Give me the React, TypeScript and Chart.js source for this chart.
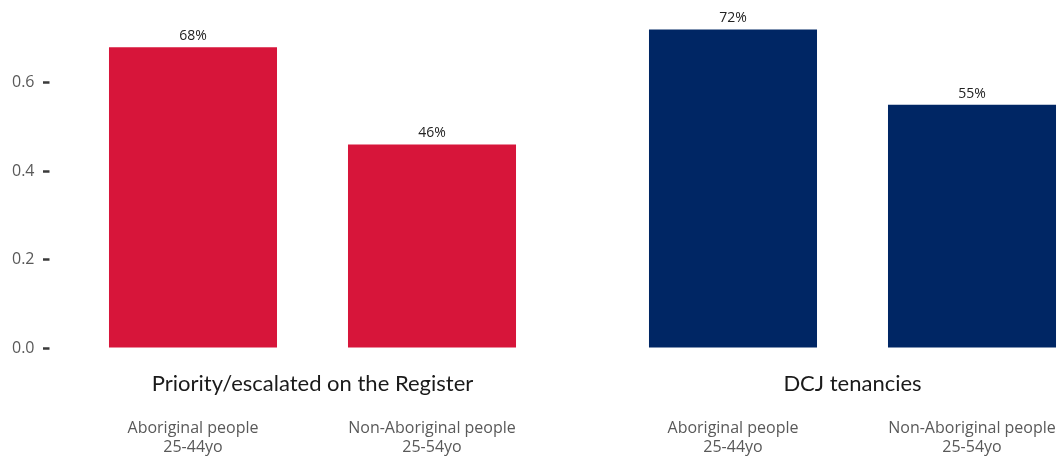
import React, { useEffect, useRef } from "react";
import { Chart, registerables } from "chart.js";

Chart.register(...registerables);

const groups = ["Priority/escalated on the Register", "DCJ tenancies"];
const seriesNames = [
  ["Aboriginal people", "25-44yo"],
  ["Non-Aboriginal people", "25-54yo"],
];
const aboriginalValues = [0.68, 0.72];
const nonAboriginalValues = [0.46, 0.55];
const groupColors = ["#D7153A", "#002664"];
const yTickValues = [0, 0.2, 0.4, 0.6];

const labelPlugin = {
  id: "customLabels",
  afterDraw(chart: any) {
    const ctx = chart.ctx;
    const area = chart.chartArea;
    const xScale = chart.scales.x;
    ctx.save();
    // value labels
    ctx.fillStyle = "#222222";
    ctx.font = "14px 'Open Sans'";
    ctx.textAlign = "center";
    ctx.textBaseline = "bottom";
    chart.data.datasets.forEach((ds: any, di: number) => {
      const meta = chart.getDatasetMeta(di);
      meta.data.forEach((bar: any, i: number) => {
        const v = ds.data[i];
        ctx.fillText(Math.round(v * 100) + "%", bar.x, bar.y - 4);
      });
    });
    // group titles
    ctx.fillStyle = "#1a1a1a";
    ctx.font = "22px Lato";
    ctx.textBaseline = "middle";
    groups.forEach((g, i) => {
      ctx.fillText(g, xScale.getPixelForValue(i), area.bottom + 36);
    });
    // series labels under each bar
    ctx.fillStyle = "#595959";
    ctx.font = "16px 'Open Sans'";
    chart.data.datasets.forEach((ds: any, di: number) => {
      const meta = chart.getDatasetMeta(di);
      meta.data.forEach((bar: any) => {
        seriesNames[di].forEach((line, li) => {
          ctx.fillText(line, bar.x, area.bottom + 80 + li * 19);
        });
      });
    });
    ctx.restore();
  },
};

export default function App() {
  const ref = useRef<HTMLCanvasElement | null>(null);
  useEffect(() => {
    document.body.style.margin = "0";
    document.body.style.overflow = "hidden";
    const canvas = ref.current!;
    const chart = new Chart(canvas, {
      type: "bar",
      data: {
        labels: groups,
        datasets: [
          {
            label: seriesNames[0].join(" "),
            data: aboriginalValues,
            backgroundColor: groupColors,
            categoryPercentage: 0.8852,
            barPercentage: 0.703,
          },
          {
            label: seriesNames[1].join(" "),
            data: nonAboriginalValues,
            backgroundColor: groupColors,
            categoryPercentage: 0.8852,
            barPercentage: 0.703,
          },
        ],
      },
      options: {
        responsive: false,
        animation: false,
        layout: { padding: { top: 12, bottom: 111, left: 0, right: 2.5 } },
        plugins: {
          legend: { display: false },
          tooltip: { enabled: false },
        },
        scales: {
          x: { display: false },
          y: {
            min: 0,
            max: 0.731,
            border: { display: false },
            grid: {
              display: true,
              drawOnChartArea: false,
              drawTicks: true,
              tickLength: -7,
              tickColor: "#3a3a3a",
              tickWidth: 2.5,
            },
            ticks: {
              padding: 15,
              color: "#595959",
              font: { family: "'Open Sans'", size: 16 },
              callback: (v: any) => Number(v).toFixed(1),
            },
            afterBuildTicks: (scale: any) => {
              scale.ticks = yTickValues.map((v) => ({ value: v }));
            },
            afterFit: (scale: any) => {
              scale.width = 42.5;
            },
          },
        },
      },
      plugins: [labelPlugin],
    });
    return () => chart.destroy();
  }, []);
  return (
    <div style={{ width: 1060, height: 459, overflow: "hidden", background: "#fff" }}>
      <canvas ref={ref} width={1125} height={459} style={{ display: "block" }} />
    </div>
  );
}
